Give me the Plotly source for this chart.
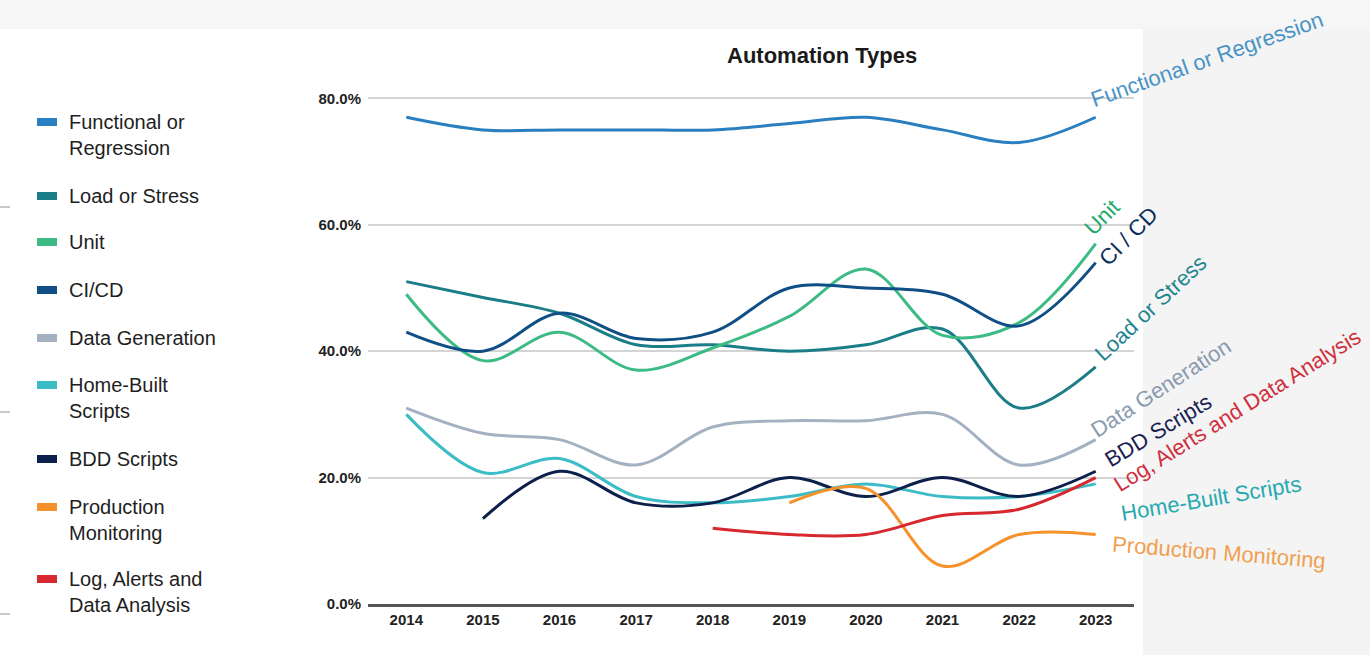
import plotly.graph_objects as go

years = [2014, 2015, 2016, 2017, 2018, 2019, 2020, 2021, 2022, 2023]

functional = [77, 75, 75, 75, 75, 76, 77, 75, 73, 77]
load_stress = [51, 48.5, 46, 41, 41, 40, 41, 43.5, 31, 37.5]
unit = [49, 38.5, 43, 37, 40.5, 45.5, 53, 42.5, 44.5, 57]
ci_cd = [43, 40, 46, 42, 43, 50, 50, 49, 44, 54]
data_gen = [31, 27, 26, 22, 28, 29, 29, 30, 22, 26]
home_built = [30, 20.8, 23, 17, 16, 17, 19, 17, 17, 19]
bdd = [None, 13.5, 21, 16, 16, 20, 17, 20, 17, 21]
production = [None, None, None, None, None, 16, 18.3, 6, 11, 11]
log_alerts = [None, None, None, None, 12, 11, 11, 14, 15, 20]

y_ticks = [0, 20, 40, 60, 80]
y_tick_text = ["0.0%", "20.0%", "40.0%", "60.0%", "80.0%"]

# name, values, line colour, end-label text, label colour
series = [
    ("Functional or Regression", functional, "#2a7fc0", "Functional or Regression", "#4a93c4"),
    ("Load or Stress", load_stress, "#1b7d88", "Load or Stress", "#1f8490"),
    ("Unit", unit, "#3dbb84", "Unit", "#22a86a"),
    ("CI/CD", ci_cd, "#0f4f86", "CI / CD", "#0b2d5a"),
    ("Data Generation", data_gen, "#a3b1c0", "Data Generation", "#8a9bb0"),
    ("Home-Built Scripts", home_built, "#3bbcc6", "Home-Built Scripts", "#26a9b1"),
    ("BDD Scripts", bdd, "#0d1f4b", "BDD Scripts", "#1a2152"),
    ("Production Monitoring", production, "#f5922b", "Production Monitoring", "#f0a050"),
    ("Log, Alerts and Data Analysis", log_alerts, "#d7282f", "Log, Alerts and Data Analysis", "#d0303e"),
]

W, H = 1370, 655
L, R, T, B = 368, 236, 73, 51


def px(x):
    return (x - L) / (W - L - R)


def py(y):
    return (H - B - y) / (H - T - B)


fig = go.Figure()
for name, vals, col, _, _ in series:
    fig.add_trace(go.Scatter(
        x=years, y=vals, name=name, mode="lines",
        line=dict(color=col, width=3, shape="spline", smoothing=1.0),
        showlegend=False,
    ))

shapes = []
annotations = []

# slide background pieces
shapes.append(dict(type="rect", xref="paper", yref="paper", x0=px(0), x1=px(W), y0=py(29), y1=py(0),
                   fillcolor="#f6f6f6", line_width=0, layer="below"))
shapes.append(dict(type="rect", xref="paper", yref="paper", x0=px(1143), x1=px(W), y0=py(H), y1=py(29),
                   fillcolor="#f4f4f4", line_width=0, layer="below"))
for yy in (207, 412, 614):
    shapes.append(dict(type="line", xref="paper", yref="paper", x0=px(0), x1=px(10), y0=py(yy), y1=py(yy),
                       line=dict(color="#c8c8c8", width=2)))

# legend on the left
legend_rows = [
    (["Functional or", "Regression"], 122),
    (["Load or Stress"], 196),
    (["Unit"], 242),
    (["CI/CD"], 290),
    (["Data Generation"], 338),
    (["Home-Built", "Scripts"], 385),
    (["BDD Scripts"], 459),
    (["Production", "Monitoring"], 507),
    (["Log, Alerts and", "Data Analysis"], 579),
]
leg_font = "Liberation Sans, Arial, sans-serif"
for (lines, y0), (_, _, col, _, _) in zip(legend_rows, series):
    shapes.append(dict(type="rect", xref="paper", yref="paper", x0=px(37), x1=px(57),
                       y0=py(y0 + 4), y1=py(y0 - 4), fillcolor=col, line_width=0))
    for i, t in enumerate(lines):
        annotations.append(dict(text=t, xref="paper", yref="paper", x=px(67), y=py(y0 + 26 * i),
                                xanchor="left", yanchor="middle", showarrow=False,
                                font=dict(family=leg_font, size=20, color="#1e1e1e")))

# rotated end labels: (centre x, centre y, angle)
label_pos = [
    (1207, 60, -19.5),
    (1150, 308, -43),
    (1102, 218, -45),
    (1128, 236, -45),
    (1160, 388, -33),
    (1211, 498, -9.5),
    (1158, 430, -31),
    (1219, 552, 4.5),
    (1237, 410, -32),
]
for (cx, cy, ang), (_, _, _, lab, lcol) in zip(label_pos, series):
    annotations.append(dict(text=lab, xref="paper", yref="paper", x=px(cx), y=py(cy),
                            xanchor="center", yanchor="middle", textangle=ang, showarrow=False,
                            font=dict(family="Liberation Sans, Arial, sans-serif", size=22, color=lcol)))

annotations.append(dict(text="<b>Automation Types</b>", xref="paper", yref="paper", x=px(822), y=py(55),
                        xanchor="center", yanchor="middle", showarrow=False,
                        font=dict(family="Liberation Sans, Arial, sans-serif", size=22, color="#1a1a1a")))

fig.update_layout(
    width=W, height=H,
    margin=dict(l=L, r=R, t=T, b=B, pad=0),
    paper_bgcolor="white", plot_bgcolor="white",
    showlegend=False,
    shapes=shapes, annotations=annotations,
    font=dict(family="Liberation Sans, Arial, sans-serif"),
)
fig.update_xaxes(
    range=[2013.5, 2023.5], tickvals=years, showgrid=False, zeroline=False,
    showline=True, linecolor="#555555", linewidth=2.5, ticks="",
    tickfont=dict(size=15, color="#222222", family="Liberation Sans, Arial, sans-serif", weight="bold"),
)
fig.update_yaxes(
    range=[0, 84], tickvals=y_ticks, ticktext=y_tick_text,
    showgrid=True, gridcolor="#d4d4d4", gridwidth=2, zeroline=False, ticks="",
    ticklabelstandoff=6,
    tickfont=dict(size=15, color="#222222", family="Liberation Sans, Arial, sans-serif", weight="bold"),
)

fig.write_html("out.html", config={"displayModeBar": False},
               post_script="document.body.style.margin='0';")
